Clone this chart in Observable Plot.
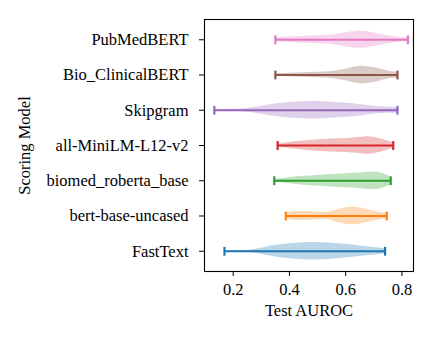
<!DOCTYPE html>
<html>
<head>
<meta charset="utf-8">
<script src="https://cdn.jsdelivr.net/npm/d3@7"></script>
<script src="https://cdn.jsdelivr.net/npm/@observablehq/plot@0.6"></script>
<style>
  html, body { margin: 0; padding: 0; background: #fff; }
  #chart svg { display: block; }
</style>
</head>
<body>
<div id="chart"></div>
<script>
// Models, bottom (position 1) to top (position 7)
const models = ["FastText", "bert-base-uncased", "biomed_roberta_base", "all-MiniLM-L12-v2", "Skipgram", "Bio_ClinicalBERT", "PubMedBERT"];
const colors = ["#1f77b4", "#ff7f0e", "#2ca02c", "#d62728", "#9467bd", "#8c564b", "#e377c2"];
const mins = [0.169, 0.387, 0.346, 0.358, 0.133, 0.350, 0.350];
const maxs = [0.740, 0.746, 0.760, 0.769, 0.784, 0.784, 0.821];

// Violin profiles: AUROC values and relative half-widths (1 = widest)
const fastTextX = [0.169, 0.22, 0.26, 0.30, 0.35, 0.40, 0.45, 0.50, 0.55, 0.60, 0.65, 0.70, 0.740];
const fastTextW = [0.05, 0.08, 0.15, 0.35, 0.65, 0.85, 0.97, 1.0, 0.92, 0.78, 0.6, 0.42, 0.3];
const bertX = [0.387, 0.42, 0.46, 0.50, 0.54, 0.58, 0.62, 0.66, 0.70, 0.746];
const bertW = [0.3, 0.5, 0.5, 0.42, 0.45, 0.8, 1.0, 0.85, 0.55, 0.3];
const biomedX = [0.346, 0.40, 0.45, 0.50, 0.55, 0.60, 0.65, 0.70, 0.73, 0.760];
const biomedW = [0.15, 0.35, 0.5, 0.6, 0.7, 0.8, 0.88, 1.0, 0.85, 0.45];
const miniX = [0.358, 0.40, 0.45, 0.50, 0.55, 0.60, 0.65, 0.68, 0.72, 0.75, 0.769];
const miniW = [0.15, 0.35, 0.5, 0.65, 0.75, 0.8, 0.9, 1.0, 0.8, 0.5, 0.3];
const skipX = [0.133, 0.20, 0.25, 0.30, 0.35, 0.40, 0.45, 0.50, 0.55, 0.60, 0.65, 0.70, 0.75, 0.784];
const skipW = [0.05, 0.1, 0.2, 0.45, 0.7, 0.88, 0.97, 1.0, 0.92, 0.8, 0.65, 0.45, 0.35, 0.3];
const clinX = [0.350, 0.40, 0.45, 0.50, 0.55, 0.60, 0.65, 0.70, 0.75, 0.784];
const clinW = [0.15, 0.2, 0.25, 0.3, 0.4, 0.65, 1.0, 0.85, 0.45, 0.3];
const pubX = [0.350, 0.40, 0.45, 0.50, 0.55, 0.60, 0.65, 0.70, 0.75, 0.80, 0.821];
const pubW = [0.2, 0.3, 0.4, 0.45, 0.55, 0.8, 1.0, 0.8, 0.45, 0.25, 0.2];

const profiles = [[fastTextX, fastTextW], [bertX, bertW], [biomedX, biomedW], [miniX, miniW], [skipX, skipW], [clinX, clinW], [pubX, pubW]];
const halfWidth = 0.25;   // violin half-width in category units
const capHalf = 0.125;

const violinRows = [];
profiles.forEach(([xs, ws], i) => {
  xs.forEach((x, j) => violinRows.push({model: models[i], pos: i + 1, x, w: ws[j] * halfWidth}));
});
const rangeRows = models.map((m, i) => ({model: m, pos: i + 1, min: mins[i], max: maxs[i]}));
const capRows = rangeRows.flatMap(d => [{model: d.model, pos: d.pos, x: d.min}, {model: d.model, pos: d.pos, x: d.max}]);

const chart = Plot.plot({
  width: 436,
  height: 343,
  marginLeft: 204,
  marginRight: 23,
  marginTop: 19,
  marginBottom: 72,
  style: {fontFamily: "'Liberation Serif', 'Times New Roman', serif", fontSize: "16.5px", background: "#fff", color: "#000"},
  x: {domain: [0.098, 0.841], ticks: [0.2, 0.4, 0.6, 0.8], tickFormat: d3.format(".1f")},
  y: {domain: [0.425, 7.575], ticks: [1, 2, 3, 4, 5, 6, 7], tickFormat: d => models[d - 1]},
  color: {domain: models, range: colors},
  marks: [
    Plot.areaY(violinRows, {x: "x", y1: d => d.pos - d.w, y2: d => d.pos + d.w, z: "model", fill: "model", fillOpacity: 0.3, curve: "catmull-rom"}),
    Plot.link(rangeRows, {x1: "min", x2: "max", y1: "pos", y2: "pos", stroke: "model", strokeWidth: 2.2}),
    Plot.link(capRows, {x1: "x", x2: "x", y1: d => d.pos - capHalf, y2: d => d.pos + capHalf, stroke: "model", strokeWidth: 2.2}),
    Plot.frame({stroke: "#000", strokeWidth: 1.1}),
    Plot.axisX({ticks: [0.2, 0.4, 0.6, 0.8], tickFormat: d3.format(".1f"), tickSize: 5, tickPadding: 7, label: "Test AUROC", labelAnchor: "center", labelArrow: "none", labelOffset: 44, fontSize: 16.5}),
    Plot.axisY({ticks: [1, 2, 3, 4, 5, 6, 7], tickFormat: d => models[d - 1], tickSize: 5, tickPadding: 11, label: "Scoring Model", labelAnchor: "center", labelArrow: "none", labelOffset: 186, fontSize: 16.5})
  ]
});
document.getElementById("chart").appendChild(chart);
</script>
</body>
</html>
